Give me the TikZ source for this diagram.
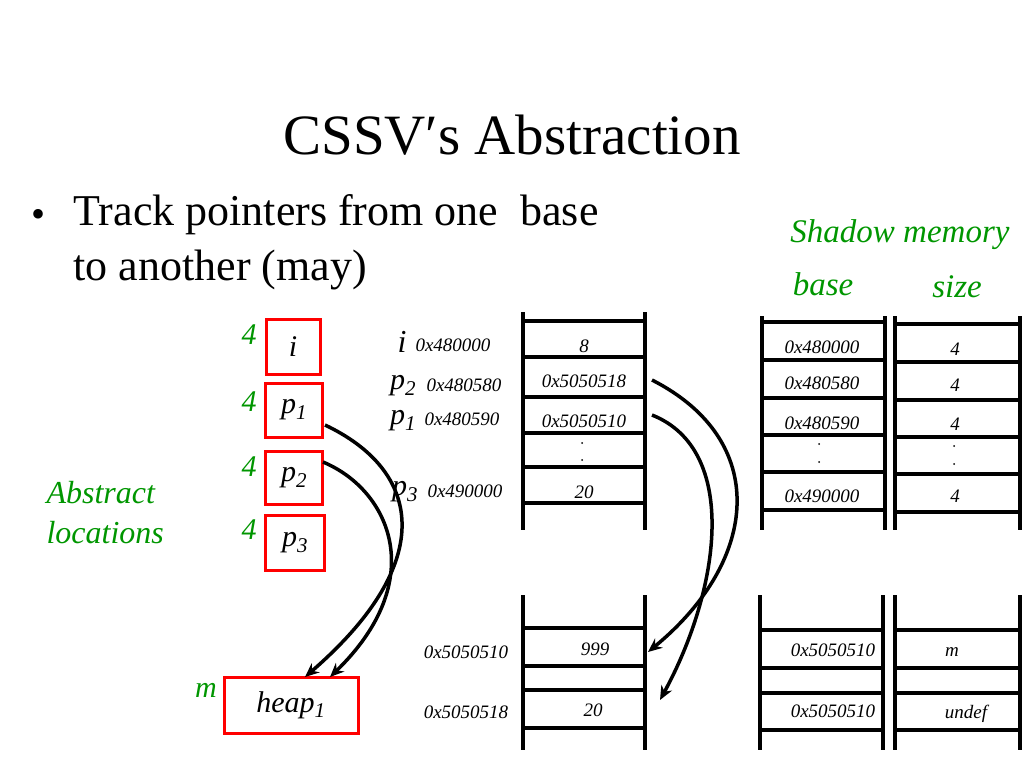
\documentclass[tikz,border=0pt]{standalone}
\usepackage{fontspec}
\setmainfont{Liberation Serif}
\usetikzlibrary{arrows.meta}
\definecolor{gr}{RGB}{0,150,0}
\begin{document}
\begin{tikzpicture}[x=1pt,y=-1pt,
  col/.style={line width=3.5pt},
  rb/.style={draw=red,line width=3pt,inner sep=0pt},
  gl/.style={text=gr,font=\fontsize{30}{32}\selectfont\itshape},
  hx/.style={font=\fontsize{19}{21}\selectfont\itshape},
  lb/.style={font=\fontsize{30}{32}\selectfont\itshape},
  ar/.style={line width=3.5pt,-{Stealth[length=14pt,width=12pt]}}]
\useasboundingbox (0,0) rectangle (1024,768);
\node[font=\fontsize{57}{60}\selectfont] (title) at (512,135) {CSSV′s Abstraction};
\node[anchor=west,font=\fontsize{40}{42}\selectfont] (bul) at (28,218) {\textbullet};
\node[anchor=west,font=\fontsize{44}{46}\selectfont] (b1) at (70,215) {Track pointers from one\ \ base};
\node[anchor=west,font=\fontsize{44}{46}\selectfont] (b2) at (70,270) {to another (may)};
\node[gl,font=\fontsize{33}{35}\selectfont\itshape] (sm) at (900,235) {Shadow memory};
\node[gl,font=\fontsize{33}{35}\selectfont\itshape] (sb) at (823,284) {base};
\node[gl,font=\fontsize{33}{35}\selectfont\itshape] (ss) at (957,287) {size};
\node[gl,anchor=west,align=left,font=\fontsize{32}{40}\selectfont\itshape] (al) at (43,513) {Abstract\\locations};
% red boxes
\node[rb,minimum width=54pt,minimum height=55pt,lb] (bi) at (293,347) {i};
\node[rb,minimum width=57pt,minimum height=54pt,lb] (bp1) at (294,410) {p\textsubscript{1}};
\node[rb,minimum width=57pt,minimum height=53pt,lb] (bp2) at (294,478) {p\textsubscript{2}};
\node[rb,minimum width=59pt,minimum height=55pt,lb] (bp3) at (295,543) {p\textsubscript{3}};
\node[rb,minimum width=134pt,minimum height=56pt,lb] (heap) at (291,705) {heap\textsubscript{1}};
\foreach \y/\n in {335/g1,402/g2,467/g3,530/g4} \node[gl] (\n) at (249,\y) {4};
\node[gl] (gm) at (206,690) {m};
% top memory column
\draw[col] (523,312) -- (523,530) (645,312) -- (645,530);
\foreach \y in {321,357,397,433,467,503} \draw[col] (523,\y) -- (645,\y);
\draw[col] (762,316) -- (762,530) (885,316) -- (885,530);
\foreach \y in {322,360,398,435,472,510} \draw[col] (762,\y) -- (885,\y);
\draw[col] (895,316) -- (895,530) (1020,316) -- (1020,530);
\foreach \y in {324,362,400,437,474,512} \draw[col] (895,\y) -- (1020,\y);
% top column texts
\node[hx] (a1) at (584,346) {8};
\node[hx] (a2) at (584,381) {0x5050518};
\node[hx] (a3) at (584,421) {0x5050510};
\fill (582,443) circle (1pt) (582,460) circle (1pt);
\node[hx] (a5) at (584,492) {20};
\foreach \y/\t/\n in {347/0x480000/s1,383/0x480580/s2,423/0x480590/s3,496/0x490000/s5} \node[hx] (\n) at (822,\y) {\t};
\fill (819,444) circle (1pt) (819,462) circle (1pt);
\foreach \y/\t/\n in {349/4/z1,385/4/z2,424/4/z3,496/4/z5} \node[hx] (\n) at (955,\y) {\t};
\fill (954,446) circle (1pt) (954,464) circle (1pt);
% left labels of top column
\node[lb,font=\fontsize{32}{34}\selectfont\itshape] (li) at (402,342) {i};
\node[hx,anchor=west] (ai) at (412,345) {0x480000};
\node[lb] (lp2) at (403,386) {p\textsubscript{2}};
\node[hx,anchor=west] (ap2) at (423,385) {0x480580};
\node[lb] (lp1) at (403,421) {p\textsubscript{1}};
\node[hx,anchor=west] (ap1) at (421,419) {0x480590};
\node[lb] (lp3) at (405,492) {p\textsubscript{3}};
\node[hx,anchor=west] (ap3) at (424,491) {0x490000};
% bottom columns
\draw[col] (523,595) -- (523,750) (645,595) -- (645,750);
\foreach \y in {628,666,690,728} \draw[col] (523,\y) -- (645,\y);
\draw[col] (760,595) -- (760,750) (883,595) -- (883,750);
\foreach \y in {630,668,693,730} \draw[col] (760,\y) -- (883,\y);
\draw[col] (895,595) -- (895,750) (1020,595) -- (1020,750);
\foreach \y in {630,668,693,730} \draw[col] (895,\y) -- (1020,\y);
\node[hx] (c1) at (595,649) {999};
\node[hx] (c2) at (593,710) {20};
\node[hx] (ca1) at (466,652) {0x5050510};
\node[hx] (ca2) at (466,712) {0x5050518};
\node[hx] (d1) at (833,650) {0x5050510};
\node[hx] (d2) at (833,711) {0x5050510};
\node[hx] (e1) at (952,652) {m};
\node[hx] (e2) at (966,714) {undef};
% arrows
\coordinate (t1) at (325,425);
\coordinate (t2) at (323,462);
\coordinate (h1) at (305,677);
\coordinate (h2) at (330,677);
\draw[ar] (t1) .. controls (420,470) and (440,560) .. (h1);
\draw[ar] (t2) .. controls (390,490) and (430,580) .. (h2);
\coordinate (m1) at (652,380);
\coordinate (m2) at (652,415);
\coordinate (k1) at (648,652);
\coordinate (k2) at (660,700);
\draw[ar] (m1) .. controls (770,440) and (760,560) .. (k1);
\draw[ar] (m2) .. controls (740,450) and (720,590) .. (k2);
\end{tikzpicture}
\end{document}
